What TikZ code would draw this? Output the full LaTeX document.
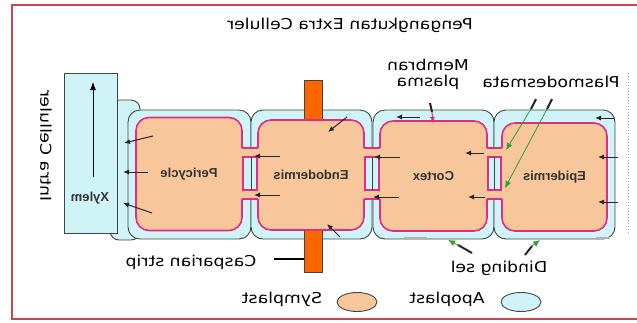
\documentclass[tikz,border=0pt]{standalone}
\usepackage{fontspec}
\setmainfont{Liberation Sans}
\newfontfamily\handfont{DejaVu Sans}
\usepackage{graphicx}
\usepackage{tikz}
\usetikzlibrary{arrows.meta}
\usetikzlibrary{shapes.geometric}
\definecolor{apo}{RGB}{208,243,248}
\definecolor{sym}{RGB}{248,198,155}
\definecolor{membran}{RGB}{222,45,135}
\definecolor{caspar}{RGB}{255,102,0}
\definecolor{framered}{RGB}{200,70,80}
\definecolor{wallline}{RGB}{60,72,72}
\definecolor{dgreen}{RGB}{45,160,45}
% mirrored writing
\newcommand{\flipped}[1]{\scalebox{-1.15}[1]{#1}}
\newcommand{\flipbold}[1]{\reflectbox{#1}}
\tikzset{
    wall/.style = {rectangle, rounded corners=12pt, draw=wallline, fill=apo, line width=0.9pt, inner sep=0pt},
    proto/.style = {rectangle, rounded corners=13pt, draw=membran, fill=sym, line width=1.6pt, inner sep=0pt, text=black!80, font=\bfseries\fontsize{13}{15}\selectfont},
    hand/.style = {font=\handfont\fontsize{15}{15}\selectfont, inner sep=0pt},
    membrane/.style = {draw=membran, line width=1.6pt},
}

\begin{document}
\begin{tikzpicture}[
	x=1pt, y=-1pt,
	thick
]
\tikzset{
    flow/.style = {-{Latex[length=6pt,width=5pt]}, line width=1pt, black!85},
    tipdark/.style = {line width=2pt, black!85},
    tipgreen/.style = {-{Latex[length=7pt,width=6pt]}, line width=0.8pt, dgreen},
    keyoval/.style = {ellipse, draw=wallline, line width=0.9pt, minimum width=40pt, minimum height=19pt}
}
\useasboundingbox (0,0) rectangle (637,322);
\draw[framered, line width=2pt] (12,5) rectangle (650,319);
%
\node[hand] at (350,25) (title) {\flipped{Pengangkutan Extra Celluler}};
\node[hand] at (46,146) (intra) {\reflectbox{\rotatebox{90}{\scalebox{1.15}[1]{Intra Celluler}}}};
\node[hand] at (428,75) (mp) {\flipped{\begin{tabular}{@{}c@{}}Membran\\plasma\end{tabular}}};
\node[hand] at (551,82) (pd) {\flipped{Plasmodesmata}};
\node[hand] at (191,262) (cs) {\flipped{Casparian strip}};
\node[hand] at (499,268) (ds) {\flipped{Dinding sel}};
%
% cell walls
\node[wall, rounded corners=9pt, minimum width=30pt, minimum height=140pt] at (125,170) (tab) {};
\node[wall, minimum width=123pt, minimum height=129pt] at (189.5,174.5) (w1) {};
\node[wall, minimum width=121pt, minimum height=129pt] at (311.5,174.5) (w2) {};
\node[wall, minimum width=121pt, minimum height=129pt] at (433.5,174.5) (w3) {};
\node[wall, minimum width=121pt, minimum height=129pt] at (554.5,174.5) (w4) {};
\node[wall, rounded corners=0pt, minimum width=53pt, minimum height=160pt] at (90.5,153) (xylem) {};
\node[text=black!80, font=\bfseries\fontsize{13}{15}\selectfont] at (90,198) (xl) {\flipbold{Xylem}};
%
\node[rectangle, draw=wallline, line width=0.6pt, fill=caspar, minimum width=18pt, minimum height=192pt, inner sep=0pt] at (313,176) (casp) {};
%
% protoplasts
\node[proto, minimum width=106pt, minimum height=113pt] at (189,174) (peri) {\flipbold{Pericycle}};
\node[proto, minimum width=106pt, minimum height=110pt] at (311,175) (endo) {\flipbold{Endodermis}};
\node[proto, minimum width=107pt, minimum height=110pt] at (433.5,176) (cortex) {\flipbold{Cortex}};
\node[proto, minimum width=105pt, minimum height=108pt] at (554.5,177) (epi) {\flipbold{Epidermis}};
%
% plasmodesmata
\fill[sym] (240,148) rectangle (260,199);
\draw[membrane] (242,148) -- (258,148) (242,199) -- (258,199);
\draw[membrane, fill=apo] (243,157) rectangle (257,190);
\draw[wallline, line width=0.9pt] (251,157) -- (251,190);
\fill[sym] (362,148) rectangle (382,199);
\draw[membrane] (364,148) -- (380,148) (364,199) -- (380,199);
\draw[membrane, fill=apo] (365,157) rectangle (379,190);
\draw[wallline, line width=0.9pt] (372.5,157) -- (372.5,190);
\fill[sym] (485,148) rectangle (504,199);
\draw[membrane] (487,148) -- (502,148) (487,199) -- (502,199);
\draw[membrane, fill=apo] (488,157) rectangle (501,190);
\draw[wallline, line width=0.9pt] (494.5,157) -- (494.5,190);
%
% flow of water
\coordinate (xb) at (93,177);
\coordinate (xt) at (93,82);
\draw[-{Latex[length=8pt,width=6pt]}, line width=0.9pt] (xb) -- (xt);
\coordinate (a1) at (614,118); \coordinate (b1) at (595,118);
\coordinate (a2) at (618,157); \coordinate (b2) at (598,157);
\coordinate (a3) at (618,202); \coordinate (b3) at (598,202);
\coordinate (a4) at (484,153); \coordinate (b4) at (465,153);
\coordinate (a5) at (485,197); \coordinate (b5) at (468,197);
\coordinate (a6) at (420,117); \coordinate (b6) at (396,117);
\coordinate (a7) at (400,157); \coordinate (b7) at (374,157);
\coordinate (a8) at (399,197); \coordinate (b8) at (373,197);
\coordinate (a9) at (347,117); \coordinate (b9) at (328,132);
\coordinate (a10) at (340,237); \coordinate (b10) at (327,224);
\coordinate (a11) at (280,156); \coordinate (b11) at (254,156);
\coordinate (a12) at (280,195); \coordinate (b12) at (254,195);
\coordinate (a13) at (153,136); \coordinate (b13) at (124,143);
\coordinate (a14) at (148,172); \coordinate (b14) at (123,172);
\coordinate (a15) at (152,213); \coordinate (b15) at (123,203);
\draw[flow] (a1) -- (b1);
\draw[flow] (a2) -- (b2);
\draw[flow] (a3) -- (b3);
\draw[flow] (a4) -- (b4);
\draw[flow] (a5) -- (b5);
\draw[flow] (a6) -- (b6);
\draw[flow] (a7) -- (b7);
\draw[flow] (a8) -- (b8);
\draw[flow] (a9) -- (b9);
\draw[flow] (a10) -- (b10);
\draw[flow] (a11) -- (b11);
\draw[flow] (a12) -- (b12);
\draw[flow] (a13) -- (b13);
\draw[flow] (a14) -- (b14);
\draw[flow] (a15) -- (b15);
\coordinate (g1) at (404,238); \coordinate (g2) at (427,238);
\coordinate (g3) at (596,238); \coordinate (g4) at (610,238);
\draw[gray!60, line width=1.5pt] (g1) -- (g2);
\draw[gray!60, line width=1.5pt] (g3) -- (g4);
%
% labels
\coordinate (m1) at (430,103); \coordinate (m2) at (432,112); \coordinate (m3) at (433,123);
\draw[line width=2pt, black!70!membran] (m1) -- (m2);
\draw[-{Latex[length=6pt,width=5pt]}, line width=1pt, membran] (m2) -- (m3);
\coordinate (p1) at (536,99); \coordinate (q1) at (531,109); \coordinate (r1) at (506,150);
\coordinate (p2) at (552,99); \coordinate (q2) at (547,109); \coordinate (r2) at (505,188);
\draw[tipdark] (p1) -- (q1);
\draw[tipgreen] (q1) -- (r1);
\draw[tipdark] (p2) -- (q2);
\draw[tipgreen] (q2) -- (r2);
\coordinate (d1) at (472,253); \coordinate (e1) at (458,245); \coordinate (f1) at (448,240);
\coordinate (d2) at (525,255); \coordinate (e2) at (532,246); \coordinate (f2) at (540,240);
\draw[tipdark] (d1) -- (e1);
\draw[tipgreen] (e1) -- (f1);
\draw[tipdark] (d2) -- (e2);
\draw[tipgreen] (e2) -- (f2);
\coordinate (cl) at (274,259);
\draw[line width=1.4pt] (cl) -- (casp.west |- cl);
\draw[gray!70, dotted, line width=1pt] (628,73) -- (628,233);
%
% legend
\node[hand] at (282,299) (symlbl) {\flipped{Symplast}};
\node[keyoval, fill=sym] at (357,302) (symkey) {};
\node[hand] at (447,299) (apolbl) {\flipped{Apoplast}};
\node[keyoval, fill=apo] at (521,302) (apokey) {};
\end{tikzpicture}
\end{document}
